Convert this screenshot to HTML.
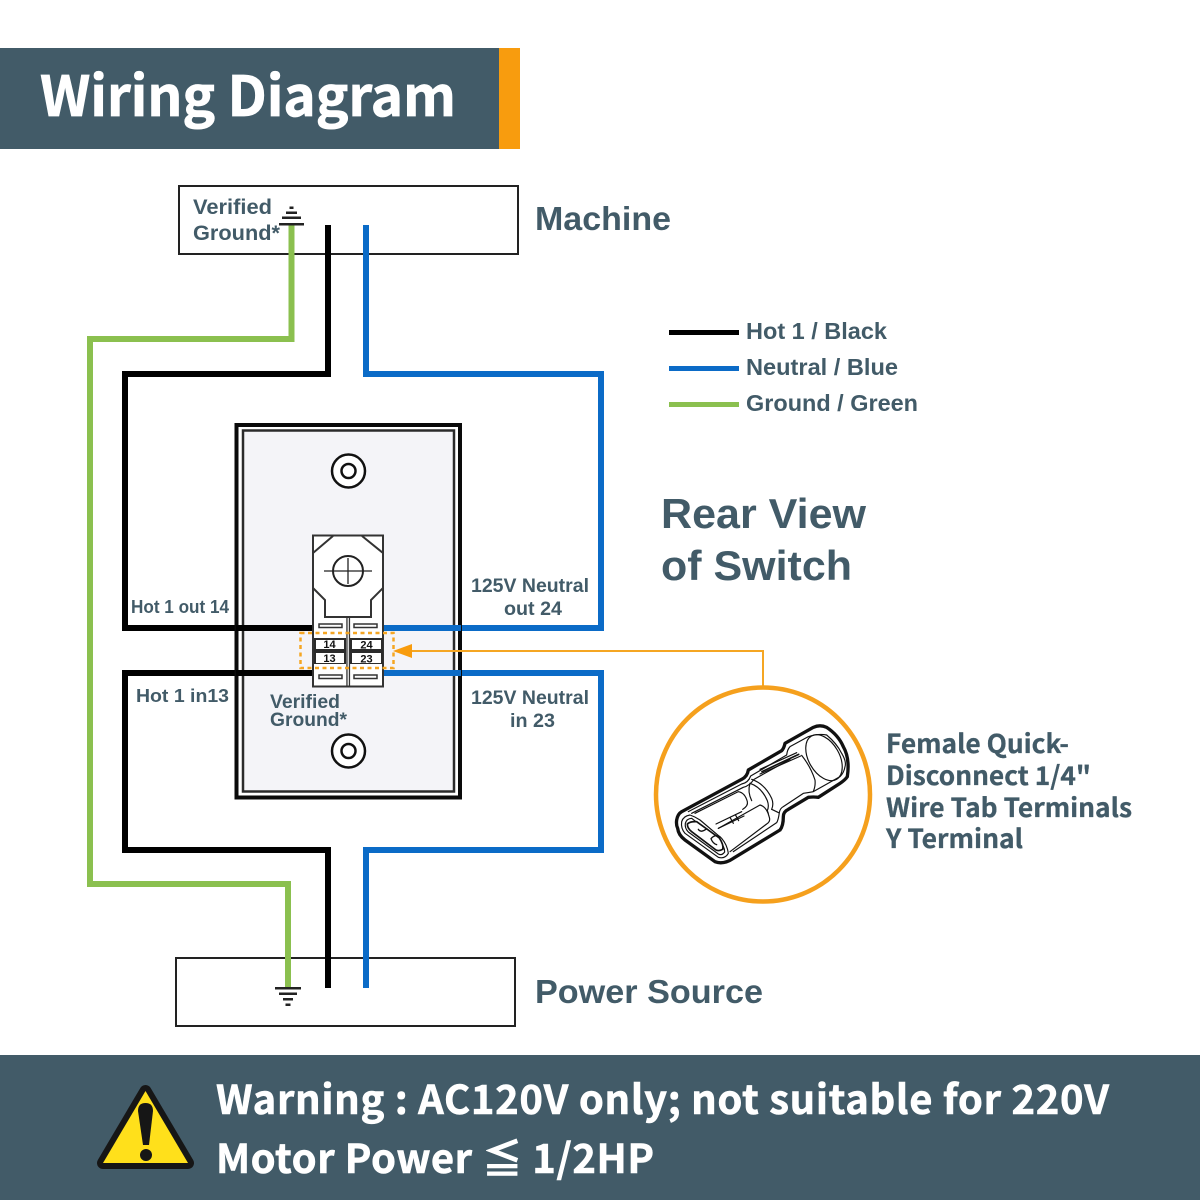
<!DOCTYPE html>
<html>
<head>
<meta charset="utf-8">
<style>
html,body{margin:0;padding:0;background:#fff}
svg{display:block}
.l{font-family:"Liberation Sans",sans-serif;font-weight:700;fill:#425b68}
.n{font-family:"Noto Sans CJK JP","Noto Sans CJK SC","Liberation Sans",sans-serif;font-weight:700}
</style>
</head>
<body>
<svg width="1200" height="1200" viewBox="0 0 1200 1200" xmlns="http://www.w3.org/2000/svg">
<rect width="1200" height="1200" fill="#fff"/>

<!-- header -->
<rect x="0" y="48" width="499" height="101" fill="#425b68"/>
<rect x="499" y="48" width="21" height="101" fill="#f89c0e"/>
<text class="n" x="40" y="116" font-size="55" fill="#fff" stroke="#fff" stroke-width=".7" textLength="416" lengthAdjust="spacing">Wiring Diagram</text>

<!-- boxes -->
<rect x="179" y="186" width="339" height="68" fill="#fff" stroke="#222" stroke-width="2"/>
<rect x="176" y="958" width="339" height="68" fill="#fff" stroke="#222" stroke-width="2"/>
<text class="l" x="193" y="214" font-size="21" textLength="79" lengthAdjust="spacingAndGlyphs">Verified</text>
<text class="l" x="193" y="240" font-size="21" textLength="87" lengthAdjust="spacingAndGlyphs">Ground*</text>
<text class="l" x="535" y="230" font-size="33" textLength="136" lengthAdjust="spacingAndGlyphs">Machine</text>
<text class="l" x="535" y="1003" font-size="33" textLength="228" lengthAdjust="spacingAndGlyphs">Power Source</text>

<!-- wires -->
<g fill="none" stroke-width="6" stroke-linejoin="miter">
<path d="M291.500,225V339H90V884H288V988" stroke="#8bc04f"/>
<path d="M328,225V374H125V628H320" stroke="#000"/>
<path d="M320,673H125V850H328V988" stroke="#000"/>
<path d="M366,225V374H601V628H380" stroke="#0b6bc7"/>
<path d="M380,673H601V850H366V988" stroke="#0b6bc7"/>
</g>

<!-- ground symbols -->
<g fill="#222">
<rect x="279" y="223" width="25" height="2.500"/>
<rect x="282" y="216.500" width="19" height="2.500"/>
<rect x="286" y="211.500" width="11" height="2.500"/>
<rect x="289.500" y="206.500" width="4" height="2.500"/>
<rect x="275" y="987" width="26" height="2.500"/>
<rect x="279" y="992.500" width="18" height="2.500"/>
<rect x="283" y="998" width="10" height="2.500"/>
<rect x="285.500" y="1003.500" width="5" height="2.500"/>
</g>

<!-- legend -->
<rect x="669" y="330" width="70" height="5" fill="#000"/>
<rect x="669" y="366" width="70" height="5" fill="#0b6bc7"/>
<rect x="669" y="402" width="70" height="5" fill="#8bc04f"/>
<text class="l" x="746" y="339" font-size="23" textLength="141" lengthAdjust="spacingAndGlyphs">Hot 1 / Black</text>
<text class="l" x="746" y="375" font-size="23" textLength="152" lengthAdjust="spacingAndGlyphs">Neutral / Blue</text>
<text class="l" x="746" y="411" font-size="23" textLength="172" lengthAdjust="spacingAndGlyphs">Ground / Green</text>

<!-- rear view -->
<text class="l" x="661" y="528" font-size="42" textLength="205" lengthAdjust="spacingAndGlyphs">Rear View</text>
<text class="l" x="661" y="580" font-size="42" textLength="191" lengthAdjust="spacingAndGlyphs">of Switch</text>

<!-- switch plate -->
<rect x="236.500" y="425" width="223.500" height="372.500" fill="#fff" stroke="#0a0a0a" stroke-width="4"/>
<rect x="243" y="430.500" width="211" height="361" fill="#f4f4f8" stroke="#2b2b2b" stroke-width="2.500"/>
<circle cx="348.500" cy="471" r="16.500" fill="#fff" stroke="#111" stroke-width="2.500"/>
<circle cx="348.500" cy="471" r="7" fill="#fff" stroke="#111" stroke-width="2.500"/>
<circle cx="348.500" cy="751" r="16.500" fill="#fff" stroke="#111" stroke-width="2.500"/>
<circle cx="348.500" cy="751" r="7" fill="#fff" stroke="#111" stroke-width="2.500"/>

<!-- wires over plate -->
<rect x="236" y="625" width="79" height="6" fill="#000"/>
<rect x="236" y="670" width="79" height="6" fill="#000"/>
<rect x="380" y="625" width="81" height="6" fill="#0b6bc7"/>
<rect x="380" y="670" width="81" height="6" fill="#0b6bc7"/>

<!-- switch body -->
<rect x="313" y="535.500" width="70" height="151" fill="#fff" stroke="#333" stroke-width="2"/>
<path d="M333,536L313,553M362,536L383,553M313,588L325,600V617H371V600L383,588" fill="none" stroke="#333" stroke-width="2"/>
<rect x="346.300" y="617" width="1.300" height="69" fill="#333"/>
<rect x="348.800" y="617" width="1.300" height="69" fill="#333"/>
<circle cx="348" cy="571" r="15" fill="#fff" stroke="#222" stroke-width="2"/>
<path d="M324,571H372M348,558V584" stroke="#222" stroke-width="1.300"/>
<g fill="#fff" stroke="#333" stroke-width="1.500">
<rect x="319" y="624" width="23" height="3.500"/>
<rect x="354" y="624" width="23" height="3.500"/>
<rect x="319" y="675" width="23" height="3.500"/>
<rect x="354" y="675" width="23" height="3.500"/>
</g>
<rect x="314" y="638" width="32" height="26" fill="#2b2b2b"/>
<rect x="350" y="638" width="33" height="26" fill="#2b2b2b"/>
<rect x="316" y="640" width="28" height="9" fill="#fff"/>
<rect x="316" y="653" width="28" height="10" fill="#fff"/>
<rect x="352" y="640" width="29" height="9" fill="#fff"/>
<rect x="352" y="653" width="29" height="10" fill="#fff"/>
<g font-family="Liberation Sans,sans-serif" font-size="11" font-weight="700" fill="#111" text-anchor="middle">
<text x="329.500" y="648">14</text><text x="329.500" y="662">13</text>
<text x="366.500" y="648.500">24</text><text x="366.500" y="662.500">23</text>
</g>
<rect x="300.500" y="633" width="93" height="35" fill="none" stroke="#f5a623" stroke-width="2.500" stroke-dasharray="4 3.500"/>

<!-- switch labels -->
<text class="l" x="131" y="613" font-size="18" textLength="98" lengthAdjust="spacingAndGlyphs">Hot 1 out 14</text>
<text class="l" x="136" y="702" font-size="18.500" textLength="93" lengthAdjust="spacingAndGlyphs">Hot 1 in13</text>
<text class="l" x="270" y="708" font-size="19.500" textLength="70" lengthAdjust="spacingAndGlyphs">Verified</text>
<text class="l" x="270" y="726" font-size="19.500" textLength="77" lengthAdjust="spacingAndGlyphs">Ground*</text>
<text class="l" x="471" y="592" font-size="19.500" textLength="118" lengthAdjust="spacingAndGlyphs">125V Neutral</text>
<text class="l" x="504" y="615" font-size="19.500" textLength="58" lengthAdjust="spacingAndGlyphs">out 24</text>
<text class="l" x="471" y="704" font-size="19.500" textLength="118" lengthAdjust="spacingAndGlyphs">125V Neutral</text>
<text class="l" x="510" y="727" font-size="19.500" textLength="45" lengthAdjust="spacingAndGlyphs">in 23</text>

<!-- arrow -->
<path d="M763,687V651H405" fill="none" stroke="#f5a623" stroke-width="2"/>
<path d="M393,651L412,644V658Z" fill="#f89c0e"/>

<!-- circle + terminal -->
<circle cx="763" cy="794.500" r="107" fill="#fff" stroke="#f5a01d" stroke-width="4.500"/>
<g transform="translate(650,680) scale(.33333)" fill="none" stroke="#111" stroke-linejoin="round" stroke-linecap="round">
<!-- outer silhouette -->
<path d="M95,395L275,298Q292,290 295,270L395,212Q402,205 405,190L490,142Q510,133 530,142Q565,165 580,200Q600,235 592,290Q585,300 570,310L505,352Q490,350 475,352L415,388Q400,395 400,410Q400,438 390,450L250,535Q220,555 195,545L105,480Q85,465 83,445Q78,435 80,420Q83,402 95,395Z" fill="#fff" stroke-width="10"/>
<g stroke-width="3.500">
<!-- inner outline -->
<path d="M115,395L275,312Q295,308 302,288L410,225Q412,208 420,200L475,170Q505,160 530,165Q560,190 575,220Q590,245 585,260Q582,278 570,290L490,335Q475,338 460,340L400,380Q390,385 388,398Q385,420 380,428L250,515"/>
<path d="M125,400L280,322Q298,318 312,298L420,238"/>
<!-- mouth ellipse -->
<ellipse cx="522" cy="233" rx="46" ry="75" transform="rotate(-30 522 233)"/>
<!-- barrel -->
<path d="M330,268L440,218M330,282L452,228" />
<path d="M336,275L446,223" stroke-width="5"/>
<path d="M455,226Q482,260 495,300Q497,318 490,334"/>
<!-- neck curve -->
<path d="M305,298Q345,312 365,355Q372,372 365,388"/>
<path d="M300,310Q335,322 352,362Q358,378 352,392"/>
<path d="M300,310Q292,335 305,362" />
<path d="M365,388L386,398M352,392L355,400"/>
<!-- upper rolled tab -->
<path d="M135,400L265,335Q285,338 292,365Q295,378 278,388"/>
<!-- lower rolled tab -->
<path d="M205,445L330,375Q350,380 358,412Q362,425 350,432L240,515"/>
<!-- centre strip -->
<path d="M198,432L275,395M205,445L282,408M240,412L250,430M256,404L266,422"/>
<!-- front rims -->
<path d="M95,425Q100,408 120,405Q135,410 150,420L215,475Q232,495 235,520Q225,538 205,532L105,460Q92,445 95,425Z" stroke-width="3.500" fill="#fff"/>
<path d="M106,430Q110,416 125,415L205,478Q224,498 224,516Q215,528 205,522L115,456Q104,445 106,430Z" fill="#fff"/>
<path d="M112,432Q120,424 140,425L208,474Q222,495 218,508Q208,514 198,510L125,455Q112,445 112,432Z" stroke-width="5" fill="#fff"/>
<!-- curls -->
<path d="M145,448Q152,460 170,446M183,476Q195,462 210,470M183,476Q188,490 200,494" stroke-width="4"/>
</g>
</g>

<text class="n" x="886" y="753" font-size="26" fill="#425b68" stroke="#425b68" stroke-width=".3" textLength="183" lengthAdjust="spacingAndGlyphs">Female Quick-</text>
<text class="n" x="886" y="785" font-size="26" fill="#425b68" stroke="#425b68" stroke-width=".3" textLength="205" lengthAdjust="spacingAndGlyphs">Disconnect 1/4"</text>
<text class="n" x="886" y="817" font-size="26" fill="#425b68" stroke="#425b68" stroke-width=".3" textLength="246" lengthAdjust="spacingAndGlyphs">Wire Tab Terminals</text>
<text class="n" x="886" y="848" font-size="26" fill="#425b68" stroke="#425b68" stroke-width=".3" textLength="137" lengthAdjust="spacingAndGlyphs">Y Terminal</text>

<!-- footer -->
<rect x="0" y="1055" width="1200" height="145" fill="#425b68"/>
<path d="M145.500,1091L188,1163H103Z" fill="#ffe01b" stroke="#161616" stroke-width="12" stroke-linejoin="round" paint-order="stroke"/>
<path d="M138,1111Q138,1103 145.500,1103Q153,1103 153,1111L149,1145H143Z" fill="#161616"/>
<circle cx="146" cy="1155" r="6" fill="#161616"/>
<text class="n" x="216" y="1114" font-size="40" fill="#fff" stroke="#fff" stroke-width=".6" textLength="893" lengthAdjust="spacing">Warning : AC120V only; not suitable for 220V</text>
<text class="n" x="216" y="1173" font-size="40" fill="#fff" stroke="#fff" stroke-width=".6" textLength="438" lengthAdjust="spacing">Motor Power ≦ 1/2HP</text>
</svg>
</body>
</html>
